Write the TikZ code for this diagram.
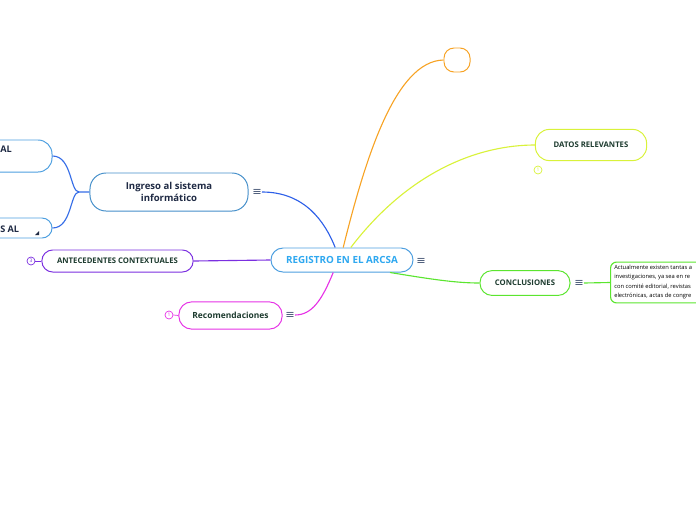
\documentclass[tikz,border=0pt]{standalone}
\usepackage{fontspec}
\setmainfont{Open Sans}
\newfontfamily\symfont{DejaVu Sans}
\usepackage{tikz}
\usetikzlibrary{positioning,calc}
\usepackage{xcolor}
\definecolor{rootblue}{HTML}{4D9FE0}
\definecolor{roottext}{HTML}{2EA8F0}
\definecolor{linkblue}{HTML}{2D5FE8}
\definecolor{topicorange}{HTML}{F7A325}
\definecolor{topiclime}{HTML}{D9F23A}
\definecolor{topicgreen}{HTML}{5BE52F}
\definecolor{topicpurple}{HTML}{7B2FE0}
\definecolor{topicpink}{HTML}{E632E6}
\definecolor{darktext}{HTML}{1D3B2F}
\definecolor{navytext}{HTML}{1F2A44}
\definecolor{menugray}{HTML}{4A5A78}

\begin{document}
\begin{tikzpicture}[x=0.025cm, y=-0.025cm,
    topic/.style={rectangle, rounded corners=2.6mm, draw, line width=0.7pt, fill=white,
        font=\bfseries\fontsize{5.5}{7}\selectfont, text=darktext, inner sep=0},
    menu/.style={font=\symfont\fontsize{8}{8}\selectfont, text=menugray, inner sep=0},
    badge/.style={circle, draw, line width=0.5pt, minimum size=0.2cm, inner sep=0,
        font=\fontsize{3.5}{3.5}\selectfont},
    link/.style={line width=0.8pt}
]
\useasboundingbox (0,0) rectangle (696,520);
\clip (0,0) rectangle (696,520);

% Central topic
\node[topic, draw=rootblue, text=roottext, rounded corners=3mm, minimum width=3.55cm,
    minimum height=0.6cm, font=\bfseries\fontsize{7}{8}\selectfont] (reg) at (342,260)
    {REGISTRO EN EL ARCSA};
\node[menu] (regmenu) at (421,261) {≡};

% Topics
\node[topic, draw=rootblue!90!black, text=navytext, rounded corners=4mm, minimum width=3.95cm,
    minimum height=0.95cm, align=center, font=\bfseries\fontsize{6.8}{8.5}\selectfont]
    (ingreso) at (169,192) {Ingreso al sistema\\informático};
\node[menu] (ingresomenu) at (257,192) {≡};

\node[topic, draw=rootblue, minimum width=2.8cm, minimum height=0.8cm, rounded corners=3.5mm]
    (altop) at (-4,156) {};
\node[font=\bfseries\fontsize{6.5}{8}\selectfont, text=navytext, anchor=west, inner sep=0]
    (altoptext) at (0,149) {AL};
\node[topic, draw=rootblue, minimum width=2.8cm, minimum height=0.5cm, rounded corners=2.5mm]
    (albot) at (-4,228) {};
\node[font=\bfseries\fontsize{6.5}{8}\selectfont, text=navytext, anchor=west, inner sep=0]
    (albottext) at (0,229) {S AL};
\fill[navytext] (39,231) -- (39,235) -- (35,235) -- cycle;

\node[topic, draw=topicorange, minimum width=0.65cm, minimum height=0.6cm, rounded corners=2.5mm]
    (blank) at (457,60) {};

\node[topic, draw=topiclime, minimum width=2.78cm, minimum height=0.78cm, rounded corners=3.5mm]
    (datos) at (591,145) {DATOS RELEVANTES};
\node[badge, draw=topiclime, text=topiclime] (datosbadge) at (538,170) {1};

\node[topic, draw=topicgreen, minimum width=2.25cm, minimum height=0.62cm, rounded corners=3mm]
    (concl) at (525,283) {CONCLUSIONES};
\node[menu] (conclmenu) at (579,283) {≡};
\node[rectangle, rounded corners=1.5mm, draw=topicgreen, line width=0.8pt, fill=white,
    minimum width=3cm, minimum height=1.02cm, anchor=west, inner sep=0] (concltext) at (610,282.5) {};
\node[anchor=north west, inner sep=0, align=left, text=black,
    font=\fontsize{4.1}{6.6}\selectfont] (conclbody) at (614,265)
    {Actualmente existen tantas a\\investigaciones, ya sea en re\\con comité editorial, revistas\\electrónicas, actas de congre};

\node[topic, draw=topicpurple, minimum width=3.78cm, minimum height=0.55cm, rounded corners=2.7mm]
    (antec) at (117.5,261) {ANTECEDENTES CONTEXTUALES};
\node[badge, draw=topicpurple, text=topicpurple] (antecbadge) at (31,261) {3};

\node[topic, draw=topicpink, minimum width=2.58cm, minimum height=0.68cm, rounded corners=3.2mm,
    font=\bfseries\fontsize{6}{7}\selectfont] (recom) at (230.5,315.5) {Recomendaciones};
\node[menu] (recommenu) at (290,315) {≡};
\node[badge, draw=topicpink, text=topicpink] (recombadge) at (169,315) {1};

% Connectors
\coordinate (fork) at (79,192);
\draw[link, linkblue] (ingresomenu.east) .. controls (305,192) and (325,222) .. ([xshift=-0.17cm]reg.north);
\draw[link, linkblue!80!rootblue] (ingreso.west) -- (fork)
    .. controls (70,192) and (72,156) .. (altop.east);
\draw[link, linkblue!80!rootblue] (fork)
    .. controls (70,192) and (72,228) .. (albot.east);
\draw[link, topicorange] ([xshift=0.03cm]reg.north) .. controls (365,160) and (395,61) .. (blank.west);
\draw[link, topiclime] ([xshift=0.22cm]reg.north) .. controls (410,170) and (480,145) .. (datos.west);
\draw[link, topicgreen] ([xshift=1.2cm]reg.south) .. controls (430,279) and (455,283) .. (concl.west);
\draw[link, topicgreen] (conclmenu.east) -- (concltext.west);
\draw[link, topicpurple] (reg.west) -- (antec.east);
\draw[link, topicpurple, line width=0.5pt] (antecbadge.east) -- (antec.west);
\draw[link, topicpink] ([xshift=-0.22cm]reg.south) .. controls (322,300) and (312,315) .. (recommenu.east);
\draw[link, topicpink, line width=0.5pt] (recombadge.east) -- (recom.west);
\end{tikzpicture}
\end{document}
